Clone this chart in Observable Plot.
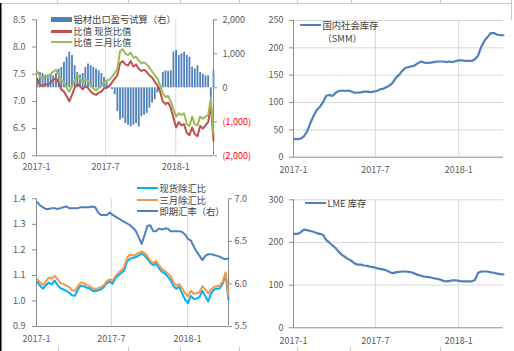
<!DOCTYPE html>
<html><head><meta charset="utf-8">
<script src="https://cdn.jsdelivr.net/npm/d3@7"></script>
<script src="https://cdn.jsdelivr.net/npm/@observablehq/plot@0.6"></script>
<style>
html,body{margin:0;padding:0;background:#fff;}
#root{position:relative;width:514px;height:351px;overflow:hidden;font-family:"Noto Sans CJK SC","Noto Sans",sans-serif;}
.panel{position:absolute;}
.lg{position:absolute;font-size:9.3px;color:#404040;line-height:11px;height:11px;white-space:nowrap;}
.sw{position:absolute;}
</style></head><body><div id="root"></div>
<script>
// ---------- data ----------
const dates = [
"2017-01-03","2017-01-10","2017-01-17","2017-01-24","2017-01-31",
"2017-02-07","2017-02-14","2017-02-21","2017-02-28",
"2017-03-07","2017-03-14","2017-03-21","2017-03-28",
"2017-04-04","2017-04-11","2017-04-18","2017-04-25",
"2017-05-02","2017-05-09","2017-05-16","2017-05-23","2017-05-30",
"2017-06-06","2017-06-13","2017-06-20","2017-06-27",
"2017-07-04","2017-07-11","2017-07-18","2017-07-25",
"2017-08-01","2017-08-08","2017-08-15","2017-08-22","2017-08-29",
"2017-09-05","2017-09-12","2017-09-19","2017-09-26",
"2017-10-03","2017-10-10","2017-10-17","2017-10-24","2017-10-31",
"2017-11-07","2017-11-14","2017-11-21","2017-11-28",
"2017-12-05","2017-12-12","2017-12-19","2017-12-26",
"2018-01-02","2018-01-09","2018-01-16","2018-01-23","2018-01-30",
"2018-02-06","2018-02-13","2018-02-20","2018-02-27",
"2018-03-06","2018-03-13","2018-03-20","2018-03-27",
"2018-04-03","2018-04-10"];

// 铝材出口盈亏试算（右）
const exportPL = [250,450,420,350,380,400,350,420,550,600,750,900,1050,950,650,450,380,420,600,700,650,600,550,500,420,300,150,80,-50,-200,-700,-950,-900,-1050,-1100,-1150,-1100,-1050,-1150,-850,-800,-750,-600,-450,-350,-150,-50,450,500,480,500,1050,1100,950,1000,1050,950,900,600,550,650,450,400,350,350,-300,500];
// 比值 现货比值
const spotRatio = [7.42,7.30,7.28,7.32,7.30,7.35,7.40,7.42,7.35,7.22,7.18,7.10,7.00,7.12,7.25,7.32,7.28,7.22,7.28,7.25,7.18,7.14,7.12,7.16,7.18,7.24,7.25,7.28,7.35,7.42,7.48,7.70,7.74,7.68,7.66,7.74,7.64,7.68,7.60,7.56,7.58,7.54,7.48,7.44,7.36,7.30,7.18,7.00,6.95,6.98,6.88,6.70,6.52,6.62,6.56,6.58,6.42,6.38,6.52,6.40,6.36,6.55,6.50,6.56,6.62,6.95,6.28];
// 比值 三月比值
const m3Ratio = [7.55,7.45,7.42,7.48,7.45,7.50,7.55,7.58,7.50,7.40,7.35,7.25,7.18,7.28,7.38,7.48,7.42,7.35,7.40,7.38,7.30,7.24,7.20,7.25,7.28,7.35,7.38,7.40,7.45,7.52,7.60,7.92,7.96,7.88,7.85,7.90,7.80,7.82,7.75,7.70,7.72,7.68,7.62,7.55,7.48,7.42,7.30,7.15,7.08,7.10,7.00,6.85,6.72,6.78,6.75,6.78,6.58,6.55,6.72,6.58,6.56,6.72,6.68,6.72,6.75,7.05,6.40];
// 国内社会库存（SMM）
const smmStock = [33,33,34,38,47,62,75,86,92,100,112,114,112,118,121,122,121,122,120,118,118,118.5,120,120,119,120,121,124,125,128,131,136,145,150,158,163,165,166,168,172,175,173,172.5,173,174,175,175,175,174,175,174,176,177,177,176,176,176,179,186,202,213,220,227,227,224,223,223];
// 现货除汇比
const spotEx = [1.075,1.058,1.048,1.062,1.072,1.065,1.080,1.062,1.050,1.045,1.040,1.032,1.022,1.020,1.045,1.060,1.058,1.052,1.050,1.040,1.038,1.042,1.046,1.055,1.070,1.075,1.068,1.090,1.100,1.110,1.120,1.155,1.165,1.168,1.172,1.178,1.186,1.178,1.165,1.150,1.140,1.146,1.128,1.115,1.108,1.095,1.082,1.058,1.048,1.055,1.030,1.005,0.992,1.020,1.008,1.010,1.015,1.040,1.018,0.998,1.030,1.045,1.048,1.050,1.068,1.105,1.005];
// 三月除汇比
const m3Ex = [1.085,1.072,1.062,1.078,1.092,1.088,1.098,1.085,1.070,1.067,1.060,1.055,1.042,1.040,1.058,1.072,1.070,1.062,1.060,1.050,1.047,1.050,1.055,1.062,1.078,1.084,1.080,1.098,1.110,1.120,1.135,1.170,1.182,1.178,1.182,1.188,1.194,1.188,1.175,1.158,1.148,1.156,1.140,1.126,1.118,1.108,1.098,1.072,1.060,1.066,1.050,1.030,1.018,1.040,1.028,1.030,1.034,1.058,1.045,1.030,1.045,1.055,1.058,1.060,1.076,1.112,1.020];
// 即期汇率（右）
const usdcny = [6.96,6.92,6.90,6.88,6.88,6.89,6.89,6.88,6.89,6.90,6.91,6.89,6.89,6.89,6.89,6.90,6.90,6.90,6.90,6.91,6.90,6.84,6.81,6.81,6.81,6.84,6.81,6.79,6.77,6.75,6.73,6.71,6.69,6.66,6.62,6.55,6.47,6.57,6.68,6.69,6.62,6.62,6.65,6.64,6.65,6.65,6.62,6.62,6.62,6.62,6.61,6.58,6.53,6.51,6.44,6.38,6.33,6.28,6.33,6.35,6.35,6.34,6.33,6.32,6.30,6.29,6.30];
// LME 库存
const lmeStock = [220,220,224,230,229,227,225,222,220,218,206,200,193,187,178,171,166,161,157,151,148,148,146,145,143,142,140,138,137,135,131,128,130,131,132,132,131,130,127,124,122,120,119,118,116,115,113,110,109,110,111,111,110,109,109,109,109,112,129,132,132,132,130,129,127,126,125];

const xTickDates = ["2017-01-01","2017-07-01","2018-01-01"];
const xTickLabels = ["2017-1","2017-7","2018-1"];
const p1LeftTicks = [6.0,6.5,7.0,7.5,8.0,8.5];
const p1RightTicks = [2000,1000,0,-1000,-2000];
const p1RightLabels = ["2,000","1,000","0","(1,000)","(2,000)"];
const p2Ticks = [0,50,100,150,200,250];
const p3LeftTicks = [0.9,1.0,1.1,1.2,1.3,1.4];
const p3RightTicks = [5.5,6.0,6.5,7.0];
const p4Ticks = [0,100,200,300];

// ---------- setup ----------
const root = document.getElementById("root");
const FONT = '"Noto Sans CJK SC","Noto Sans",sans-serif';
const AX = "#8c8c8c", GRID = "#d9d9d9", TXT = "#595959";
const xDomain = [new Date("2017-01-01"), new Date("2018-04-10")];
const xt = xTickDates.map(d => new Date(d));
const fmtX = d => xTickLabels[xt.findIndex(t => +t === +d)];
const rows = dates.map((d, i) => ({
  date: new Date(d), pl: exportPL[i], spot: spotRatio[i], m3: m3Ratio[i],
  smm: smmStock[i], spotEx: spotEx[i], m3Ex: m3Ex[i], fx: usdcny[i], lme: lmeStock[i]
}));
const baseStyle = {background: "transparent", fontFamily: FONT, overflow: "visible"};

function place(el, left, top) {
  const d = document.createElement("div");
  d.className = "panel"; d.style.left = left + "px"; d.style.top = top + "px";
  d.appendChild(el); root.appendChild(d);
}
function legendText(x, yc, label) {
  const t = document.createElement("div");
  t.className = "lg"; t.textContent = label;
  Object.assign(t.style, {left: x + "px", top: (yc - 5.5) + "px"});
  root.appendChild(t);
}
function legend(x, yc, kind, color, label, w = 21) {
  const s = document.createElement("div");
  s.className = "sw";
  const h = kind === "bar" ? 5 : 2.2;
  Object.assign(s.style, {left: x + "px", top: (yc - h / 2) + "px", width: w + "px", height: h + "px", background: color});
  root.appendChild(s);
  legendText(x + w + 1.5, yc, label);
}

// ---------- panel 1 ----------
const m1 = d3.scaleLinear([-2000, 2000], [6, 8.5]);
const lab1 = v => p1RightLabels[p1RightTicks.findIndex(t => Math.abs(m1(t) - v) < 1e-9)];
const p1 = Plot.plot({
  width: 257, height: 175, marginLeft: 36, marginRight: 44, marginTop: 19.3, marginBottom: 19.7,
  style: baseStyle,
  x: {type: "utc", domain: xDomain, label: null},
  y: {domain: [6, 8.5], label: null},
  marks: [
    Plot.ruleX(xt.slice(1), {stroke: GRID}),
    Plot.ruleX(rows, {x: "date", y1: () => m1(0), y2: d => m1(d.pl), stroke: "#4F81BD", strokeWidth: 1.8}),
    Plot.ruleX([xDomain[0]], {stroke: AX}),
    Plot.ruleX([xDomain[1]], {stroke: AX}),
    Plot.ruleY([6], {stroke: AX}),
    Plot.line(rows, {x: "date", y: "spot", stroke: "#C0504D", strokeWidth: 2}),
    Plot.line(rows, {x: "date", y: "m3", stroke: "#9BBB59", strokeWidth: 2}),
    Plot.axisY(p1LeftTicks, {anchor: "left", label: null, tickFormat: d3.format(".1f"), tickSize: 4, tickPadding: 7, stroke: AX, fill: TXT, fontSize: 9}),
    Plot.axisY(p1RightTicks.filter(t => t >= 0).map(m1), {anchor: "right", label: null, tickFormat: lab1, tickSize: 3, tickPadding: 6, stroke: AX, fill: TXT, fontSize: 9}),
    Plot.axisY(p1RightTicks.filter(t => t < 0).map(m1), {anchor: "right", label: null, tickFormat: lab1, tickSize: 3, tickPadding: 6, stroke: AX, fill: "#FF0000", fontSize: 9}),
    Plot.axisX(xt, {label: null, tickFormat: fmtX, tickSize: 0, tickPadding: 8, fill: TXT, fontSize: 9})
  ]
});
place(p1, 0, 0);

// ---------- panel 2 ----------
const p2 = Plot.plot({
  width: 257, height: 175, marginLeft: 36, marginRight: 11, marginTop: 20, marginBottom: 18.3,
  style: baseStyle,
  x: {type: "utc", domain: xDomain, label: null},
  y: {domain: [0, 250], label: null},
  marks: [
    Plot.ruleY(p2Ticks.slice(1), {stroke: GRID}),
    Plot.ruleX(xt.slice(1), {stroke: GRID}),
    Plot.ruleX([xDomain[0]], {stroke: AX}),
    Plot.ruleY([0], {stroke: AX}),
    Plot.line(rows, {x: "date", y: "smm", stroke: "#4F81BD", strokeWidth: 2.2}),
    Plot.axisY(p2Ticks, {anchor: "left", label: null, tickSize: 4, tickPadding: 6, stroke: AX, fill: TXT, fontSize: 9}),
    Plot.axisX(xt, {label: null, tickFormat: fmtX, tickSize: 0, tickPadding: 9, fill: TXT, fontSize: 9})
  ]
});
place(p2, 257, 0);

// ---------- panel 3 ----------
const m3s = d3.scaleLinear([5.5, 7.0], [0.9, 1.4]);
const lab3 = v => d3.format(".1f")(m3s.invert(v));
const p3 = Plot.plot({
  width: 257, height: 176, marginLeft: 36, marginRight: 29, marginTop: 23.3, marginBottom: 25,
  style: baseStyle,
  x: {type: "utc", domain: xDomain, label: null},
  y: {domain: [0.9, 1.4], label: null},
  marks: [
    Plot.ruleX(xt.slice(1), {stroke: GRID}),
    Plot.ruleX([xDomain[0]], {stroke: AX}),
    Plot.ruleX([xDomain[1]], {stroke: AX}),
    Plot.ruleY([0.9], {stroke: AX}),
    Plot.line(rows, {x: "date", y: "spotEx", stroke: "#00B0F0", strokeWidth: 2}),
    Plot.line(rows, {x: "date", y: "m3Ex", stroke: "#F79646", strokeWidth: 2}),
    Plot.line(rows, {x: "date", y: d => m3s(d.fx), stroke: "#4F81BD", strokeWidth: 2}),
    Plot.axisY(p3LeftTicks, {anchor: "left", label: null, tickFormat: d3.format(".1f"), tickSize: 4, tickPadding: 7, stroke: AX, fill: TXT, fontSize: 9}),
    Plot.axisY(p3RightTicks.map(m3s), {anchor: "right", label: null, tickFormat: lab3, tickSize: 3, tickPadding: 3, stroke: AX, fill: TXT, fontSize: 9}),
    Plot.axisX(xt, {label: null, tickFormat: fmtX, tickSize: 0, tickPadding: 9, fill: TXT, fontSize: 9})
  ]
});
place(p3, 0, 175);

// ---------- panel 4 ----------
const p4 = Plot.plot({
  width: 257, height: 176, marginLeft: 36, marginRight: 11, marginTop: 24.3, marginBottom: 23.7,
  style: baseStyle,
  x: {type: "utc", domain: xDomain, label: null},
  y: {domain: [0, 300], label: null},
  marks: [
    Plot.ruleY(p4Ticks.slice(1), {stroke: GRID}),
    Plot.ruleX(xt.slice(1), {stroke: GRID}),
    Plot.ruleX([xDomain[0]], {stroke: AX}),
    Plot.ruleY([0], {stroke: AX}),
    Plot.line(rows, {x: "date", y: "lme", stroke: "#4F81BD", strokeWidth: 2.2}),
    Plot.axisY(p4Ticks, {anchor: "left", label: null, tickSize: 4, tickPadding: 6, stroke: AX, fill: TXT, fontSize: 9}),
    Plot.axisX(xt, {label: null, tickFormat: fmtX, tickSize: 0, tickPadding: 10, fill: TXT, fontSize: 9})
  ]
});
place(p4, 257, 175);

// ---------- legends ----------
legend(51, 19.3, "bar", "#4F81BD", "铝材出口盈亏试算（右）");
legend(51, 31.5, "line", "#C0504D", "比值 现货比值");
legend(51, 42, "line", "#9BBB59", "比值 三月比值");
legend(300, 25, "line", "#4F81BD", "国内社会库存");
legendText(322.5, 38.3, "（SMM）");
legend(137, 188.3, "line", "#00B0F0", "现货除汇比");
legend(137, 200, "line", "#F79646", "三月除汇比");
legend(137, 211.3, "line", "#4F81BD", "即期汇率（右）");
legend(305, 203.3, "line", "#4F81BD", "LME 库存");

// ---------- sheet artefacts (cell borders around the chart area) ----------
const ns = "http://www.w3.org/2000/svg";
const deco = document.createElementNS(ns, "svg");
deco.setAttribute("width", 514); deco.setAttribute("height", 351);
deco.style.position = "absolute"; deco.style.left = "0"; deco.style.top = "0";
const topStubs = [57, 128, 180, 239, 297, 351, 440];
const botStubs = [58, 128, 180, 239, 297, 350, 440];
let html = `<line x1="0" y1="3.5" x2="512" y2="3.5" stroke="#c8c8c8"/>`;
topStubs.forEach(x => html += `<line x1="${x + .5}" y1="0" x2="${x + .5}" y2="3.5" stroke="#c8c8c8"/>`);
botStubs.forEach(x => html += `<line x1="${x + .5}" y1="347" x2="${x + .5}" y2="351" stroke="#c8c8c8"/>`);
html += `<line x1="511.5" y1="0" x2="511.5" y2="20" stroke="#c8c8c8"/>`;
html += `<rect x="0" y="3" width="1.5" height="348" fill="#000"/>`;
deco.innerHTML = html;
root.appendChild(deco);
</script></body></html>
